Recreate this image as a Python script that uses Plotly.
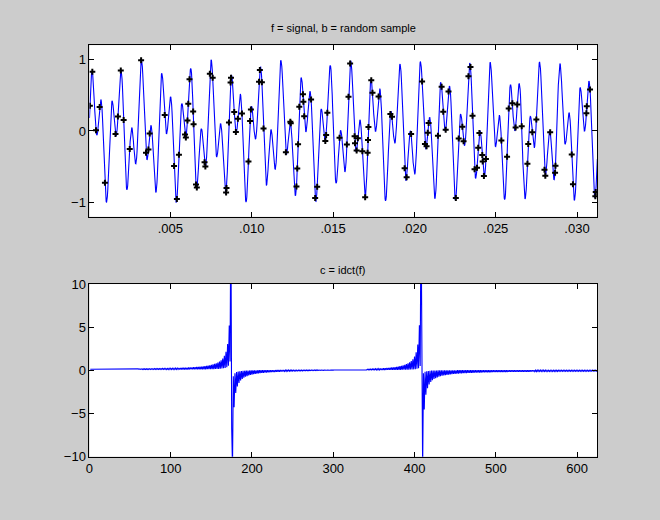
import numpy as np
import plotly.graph_objects as go

# Signal: two touch-tone frequencies, sampled at 40 kHz for 1/8 s
tone_freqs = [697, 1633]
sample_rate = 40000
n_total = 5000
n_shown = 1250
n_coef = 625

# Random sample points (approx sample index, value)
sample_idx = [1, 8, 16, 25, 38, 65, 72, 78, 84, 99, 128, 141, 145, 149, 187, 210, 215, 221,
              235, 238, 242, 243, 246, 253, 259, 263, 265, 285, 286, 297, 305, 336, 339, 344,
              349, 350, 355, 361, 366, 376, 394, 395, 398, 417, 421, 425, 429, 484, 495, 497,
              511, 514, 515, 518, 527, 528, 531, 547, 557, 562, 581, 583, 586, 616, 634, 638,
              642, 652, 655, 658, 662, 672, 679, 685, 686, 687, 694, 697, 714, 740, 745, 776,
              781, 791, 819, 826, 831, 833, 837, 858, 867, 873, 877, 885, 903, 909, 919, 923,
              934, 939, 944, 948, 953, 958, 960, 967, 968, 970, 975, 1014, 1029, 1031, 1041,
              1049, 1055, 1064, 1078, 1082, 1090, 1100, 1119, 1122, 1134, 1147, 1148, 1188,
              1191, 1223, 1225, 1232, 1246, 1249]
sample_val = [0.36, 0.83, 0.01, 0.34, -0.73, -0.04, 0.20, 0.84, 0.15, -0.25, 1.0, -0.29, -0.26,
              -0.04, 0.22, -0.49, -0.96, -0.34, -0.05, -0.06, 0.15, 0.38, 0.72, 0.27, 0.09,
              -0.75, -0.79, -0.43, -0.50, 0.80, 0.74, -0.85, -0.80, 0.12, 0.74, 0.68, 0.27,
              -0.03, 0.16, 0.24, -0.42, 0.14, 0.30, 0.69, 0.85, 0.68, 0.03, -0.30, 0.11, 0.11,
              -0.77, -0.53, -0.19, 0.34, 0.51, 0.41, 0.20, 0.43, -0.94, -0.78, -0.14, -0.06,
              0.26, -0.09, -0.19, 0.47, 0.97, -0.07, -0.18, -0.27, -0.11, -0.29, -0.91, 0.05,
              -0.12, -0.30, 0.70, 0.53, 0.49, 0.23, 0.20, -0.51, -0.65, -0.04, 0.68, -0.18,
              -0.22, -0.03, 0.11, -0.07, 0.63, 0.28, 0.02, 0.55, -0.96, -0.10, 0.05, -0.15,
              0.77, 0.90, 0.22, -0.54, -0.51, -0.23, -0.03, -0.34, -0.43, -0.62, -0.39, -0.14,
              -0.36, 0.31, 0.40, 0.02, 0.36, 0.07, -0.46, -0.19, -0.01, 0.16, -0.54, -0.62,
              -0.01, -0.48, -0.58, -0.32, -0.74, 0.24, 0.35, 0.58, -0.86, -0.86]

# Tick labels
top_xticks = [0.005, 0.010, 0.015, 0.020, 0.025, 0.030]
top_xtext = [".005", ".010", ".015", ".020", ".025", ".030"]
top_yticks = [-1, 0, 1]
bot_xticks = [0, 100, 200, 300, 400, 500, 600]
bot_yticks = [-10, -5, 0, 5, 10]

t = np.arange(1, n_total + 1) / sample_rate
f = sum(np.sin(2 * np.pi * fr * t) for fr in tone_freqs) / len(tone_freqs)

# c = idct(f), MATLAB convention, first n_coef values
k = np.arange(n_total)
w = np.full(n_total, np.sqrt(2.0 / n_total))
w[0] = np.sqrt(1.0 / n_total)
nn = np.arange(1, n_coef + 1)[:, None]
c = (np.cos(np.pi * (2 * nn - 1) * k[None, :] / (2 * n_total)) * (w * f)[None, :]).sum(axis=1)

# snap the read points onto the nearest matching sample
used = set()
pts = []
for i0, v in zip(sample_idx, sample_val):
    best, cost = None, 1e9
    for i in range(max(1, i0 - 4), min(n_shown, i0 + 4) + 1):
        if i in used:
            continue
        cc = abs(f[i - 1] - v) + 0.02 * abs(i - i0)
        if cc < cost:
            best, cost = i, cc
    used.add(best)
    pts.append(best)
pts = np.array(sorted(pts))

fig = go.Figure()
fig.add_trace(go.Scatter(x=t[:n_shown], y=f[:n_shown], mode="lines",
                         line=dict(color="#0000ff", width=1.1), xaxis="x", yaxis="y"))
fig.add_trace(go.Scatter(x=t[pts - 1], y=f[pts - 1], mode="markers",
                         marker=dict(color="black", size=5, symbol="cross",
                                     line=dict(width=0)),
                         xaxis="x", yaxis="y"))
fig.add_trace(go.Scatter(x=np.arange(1, n_coef + 1), y=c, mode="lines",
                         line=dict(color="#0000ff", width=1.1), xaxis="x2", yaxis="y2"))

axis_style = dict(showline=True, linecolor="black", linewidth=1, mirror="ticks",
                  ticks="inside", ticklen=5, tickcolor="black", showgrid=False,
                  zeroline=False, tickfont=dict(size=13, color="black"))

fig.update_layout(
    width=660, height=520,
    margin=dict(l=0, r=0, t=0, b=0),
    paper_bgcolor="#cccccc", plot_bgcolor="white",
    showlegend=False,
    font=dict(family="Liberation Sans, Arial, sans-serif", color="black"),
    xaxis=dict(domain=[0.1303, 0.9045], range=[1 / sample_rate, n_shown / sample_rate],
               tickvals=top_xticks, ticktext=top_xtext, anchor="y", **axis_style),
    yaxis=dict(domain=[0.5846, 0.9244], range=[-1.2, 1.2], tickvals=top_yticks,
               anchor="x", **axis_style),
    xaxis2=dict(domain=[0.1303, 0.9045], range=[0, n_coef], tickvals=bot_xticks,
                anchor="y2", **axis_style),
    yaxis2=dict(domain=[0.1096, 0.4513], range=[-10, 10], tickvals=bot_yticks,
                anchor="x2", **axis_style),
    annotations=[
        dict(text="f = signal, b = random sample", x=0.5174, y=0.9577, xref="paper",
             yref="paper", xanchor="center", yanchor="middle", showarrow=False,
             font=dict(size=11)),
        dict(text="c = idct(f)", x=0.5174, y=0.479, xref="paper", yref="paper",
             xanchor="center", yanchor="middle", showarrow=False, font=dict(size=11)),
    ],
)

fig.write_html("out.html", config={"displayModeBar": False},
               post_script="document.body.style.margin='0';")
